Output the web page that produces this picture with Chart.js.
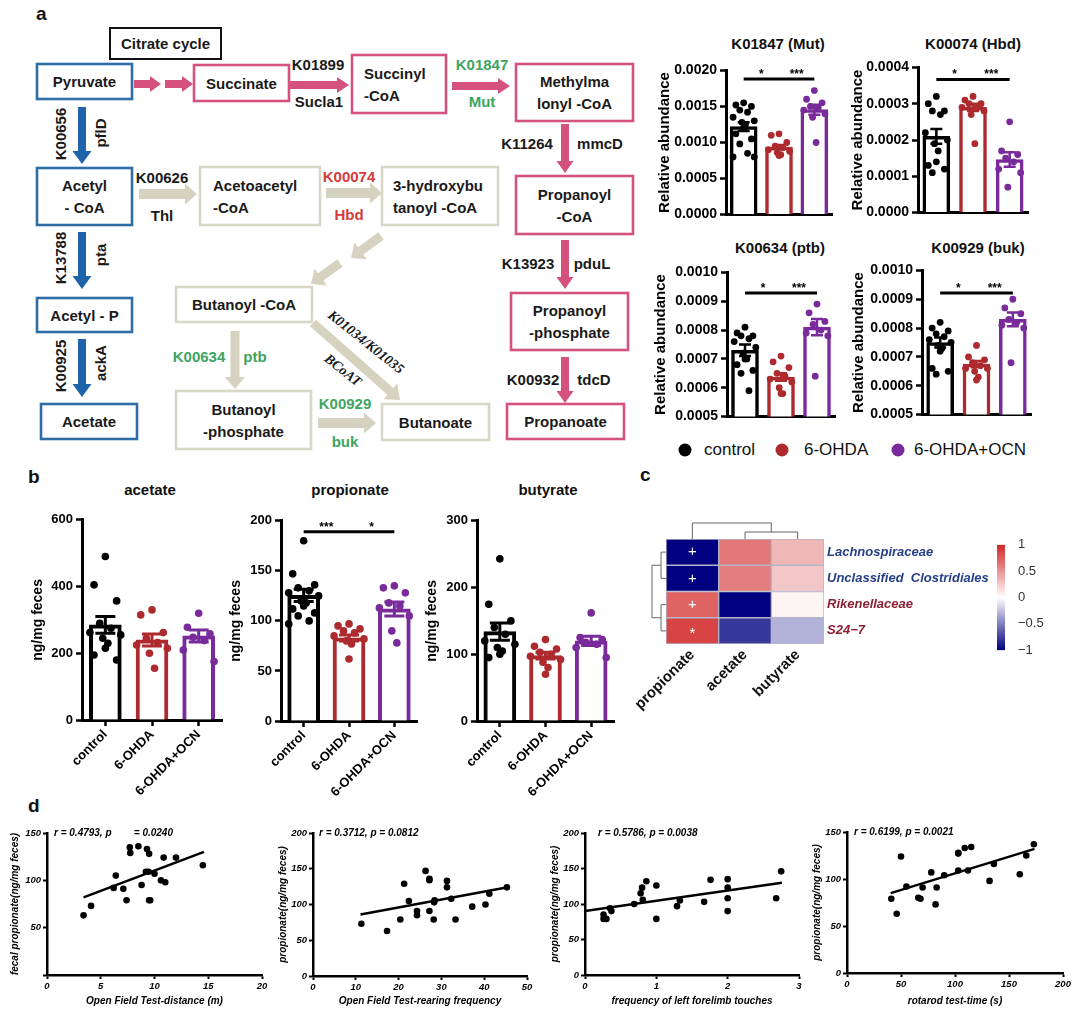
<!DOCTYPE html>
<html>
<head>
<meta charset="utf-8">
<script src="https://cdn.jsdelivr.net/npm/chart.js@4.4.1/dist/chart.umd.min.js"></script>
<style>
  body { margin: 0; background: #fff; width: 1080px; height: 1013px; position: relative; overflow: hidden;
         font-family: 'Liberation Sans', Arial, Helvetica, sans-serif; color: #111; }
  .abs { position: absolute; }
  .panel { position: absolute; font-weight: bold; font-size: 19px; }
  .ttl { position: absolute; font-weight: bold; font-size: 15px; transform: translate(-50%, -50%); white-space: nowrap; }
  .dot { position: absolute; width: 13px; height: 13px; border-radius: 50%; transform: translate(-50%, -50%); }
  .lg { position: absolute; font-size: 17px; transform: translateY(-50%); white-space: nowrap; }
</style>
</head>
<body>
<svg id="pathway" width="640" height="460" style="position:absolute;left:0;top:0"></svg>

<div class="panel" style="left:36px;top:3px">a</div>
<div class="panel" style="left:28px;top:466px">b</div>
<div class="panel" style="left:640px;top:464px">c</div>
<div class="panel" style="left:28px;top:795px">d</div>

<div class="ttl" style="left:778px;top:43px">K01847 (Mut)</div>
<div class="ttl" style="left:973px;top:43px">K00074 (Hbd)</div>
<div class="ttl" style="left:780px;top:247px">K00634 (ptb)</div>
<div class="ttl" style="left:978px;top:247px">K00929 (buk)</div>

<div class="dot" style="left:685px;top:450px;background:#000"></div><div class="lg" style="left:704px;top:450px">control</div>
<div class="dot" style="left:782px;top:450px;background:#ad2a2f"></div><div class="lg" style="left:804px;top:450px">6-OHDA</div>
<div class="dot" style="left:898px;top:450px;background:#7a2b9b"></div><div class="lg" style="left:914px;top:450px">6-OHDA+OCN</div>

<div class="ttl" style="left:150px;top:489px">acetate</div>
<div class="ttl" style="left:350px;top:489px">propionate</div>
<div class="ttl" style="left:548px;top:489px">butyrate</div>

<script>
"use strict";

// ── Data ─────────────────────────────────────────────────────────────────────

const GROUPS = ["control", "6-OHDA", "6-OHDA+OCN"];
const COLORS = ["#000000", "#ad2a2f", "#7a2b9b"];

// a – relative abundance of the four KOs
const MUT_CONTROL = [0.00152, 0.00155, 0.00150, 0.00145, 0.00142, 0.00135, 0.00130, 0.00128, 0.00125, 0.00120, 0.00112, 0.00105, 0.00098, 0.00085, 0.00080, 0.00080];
const MUT_OHDA    = [0.00110, 0.00112, 0.00100, 0.00095, 0.00093, 0.00090, 0.00088, 0.00086, 0.00083, 0.00082];
const MUT_OCN     = [0.00172, 0.00160, 0.00155, 0.00150, 0.00148, 0.00145, 0.00140, 0.00135, 0.00100];
const MUT_MEANS   = [0.00122, 0.000935, 0.001455];
const MUT_SEM     = [0.00006, 0.00003, 0.00007];

const HBD_CONTROL = [0.00032, 0.00030, 0.00028, 0.00028, 0.00027, 0.00022, 0.00020, 0.00019, 0.00017, 0.00014, 0.00013, 0.00012, 0.00011];
const HBD_OHDA    = [0.00032, 0.00031, 0.00030, 0.00030, 0.00029, 0.00029, 0.00028, 0.00027, 0.00019];
const HBD_OCN     = [0.00025, 0.00017, 0.00016, 0.00015, 0.00014, 0.00012, 0.00011, 0.00007];
const HBD_MEANS   = [0.00021, 0.00029, 0.000146];
const HBD_SEM     = [0.00002, 0.00001, 0.00002];

const PTB_CONTROL = [0.00081, 0.00079, 0.00078, 0.00078, 0.00077, 0.00076, 0.00072, 0.00070, 0.00068, 0.00066, 0.00065, 0.00074, 0.00070, 0.00059];
const PTB_OHDA    = [0.00071, 0.00069, 0.00067, 0.00065, 0.00064, 0.00063, 0.00062, 0.00060, 0.00058, 0.00058];
const PTB_OCN     = [0.00089, 0.00086, 0.00083, 0.00082, 0.00080, 0.00079, 0.00078, 0.00064];
const PTB_MEANS   = [0.00073, 0.000637, 0.00081];
const PTB_SEM     = [0.00002, 0.000013, 0.000028];

const BUK_CONTROL = [0.00082, 0.00080, 0.00079, 0.00078, 0.00077, 0.00075, 0.00073, 0.00076, 0.00074, 0.00072, 0.00066, 0.00065, 0.00064];
const BUK_OHDA    = [0.00074, 0.00070, 0.00069, 0.00068, 0.00067, 0.00066, 0.00066, 0.00065, 0.00063, 0.00062];
const BUK_OCN     = [0.00090, 0.00087, 0.00085, 0.00083, 0.00082, 0.00081, 0.00080, 0.00068];
const BUK_MEANS   = [0.00075, 0.000675, 0.00083];
const BUK_SEM     = [0.000017, 0.000011, 0.000024];

// b – faecal SCFA (ng/mg feces)
const ACE_CONTROL = [490, 405, 357, 290, 275, 262, 255, 245, 230, 215, 195, 180];
const ACE_OHDA    = [330, 315, 262, 245, 232, 225, 215, 200, 155];
const ACE_OCN     = [320, 278, 258, 248, 238, 210, 175];
const ACE_MEANS   = [285, 240, 252];
const ACE_SEM     = [25, 18, 18];

const PRO_CONTROL = [180, 147, 136, 133, 130, 128, 125, 120, 118, 115, 112, 108, 105, 100, 97];
const PRO_OHDA    = [97, 95, 92, 90, 88, 85, 82, 80, 77, 62];
const PRO_OCN     = [135, 133, 128, 118, 115, 113, 105, 90, 78];
const PRO_MEANS   = [125.5, 83, 112];
const PRO_SEM     = [6, 3, 7];

const BUT_CONTROL = [243, 175, 150, 140, 130, 120, 115, 110, 105, 100, 95];
const BUT_OHDA    = [122, 112, 108, 103, 100, 97, 92, 88, 80, 70];
const BUT_OCN     = [162, 125, 122, 118, 115, 110, 95];
const BUT_MEANS   = [134, 98, 120];
const BUT_SEM     = [13, 5, 7];

// c – correlation heatmap
const HM_COLS   = ["propionate", "acetate", "butyrate"];
const HM_ROWS   = ["Lachnospiraceae", "Unclassified  Clostridiales", "Rikenellaceae", "S24\u22127"];
const HM_ROW_COLORS = ["#263f86", "#263f86", "#8e1f33", "#8e1f33"];
const HM_VALUES = [
  [-1.0, 0.62, 0.33],
  [-1.0, 0.60, 0.26],
  [0.72, -1.0, 0.05],
  [0.86, -0.78, -0.30],
];
const HM_MARKS  = ["+", "+", "+", "*"];
const COLORBAR_TICKS = [-1, -0.5, 0, 0.5, 1];

// d – correlations with behaviour
const D1_X = [3.4, 4.1, 6.2, 6.4, 7.1, 7.4, 7.7, 7.75, 8.5, 8.8, 9.2, 9.3, 9.5, 9.45, 9.5, 9.6, 10.0, 10.6, 10.85, 11.0, 12.0, 14.5];
const D1_Y = [63, 73, 92, 105, 91, 79, 135, 129, 136, 95, 109, 133, 128, 109, 79, 79, 107, 100, 124, 98, 124, 116];
const D1_FIT_X = [3.4, 14.6];
const D1_FIT_Y = [82, 130];

const D2_X = [11.3, 17.3, 20.4, 21.3, 22.4, 24.3, 24.3, 26.3, 27.2, 27.2, 27.2, 28.4, 28.3, 28.2, 31.3, 31.3, 32.3, 33.3, 37.2, 40.3, 41.2, 45.3];
const D2_Y = [73, 63, 79, 129, 105, 91, 85, 147, 136, 134, 91, 106, 103, 79, 133, 124, 108, 79, 97, 100, 115, 124];
const D2_FIT_X = [11.1, 45.5];
const D2_FIT_Y = [86, 124];

const D3_X = [0.26, 0.26, 0.30, 0.35, 0.37, 0.69, 0.78, 0.80, 0.81, 0.86, 1.0, 1.0, 1.29, 1.33, 1.67, 1.76, 2.0, 2.0, 2.0, 2.0, 2.68, 2.75];
const D3_Y = [85, 79, 79, 94, 90, 100, 115, 123, 106, 132, 126, 79, 97, 105, 103, 134, 135, 123, 108, 90, 108, 146];
const D3_FIT_X = [0, 2.76];
const D3_FIT_Y = [90, 130];

const D4_X = [41, 46, 50, 55, 66, 68, 70, 78, 82, 83, 90, 103, 103, 103, 109, 112, 115, 132, 136, 160, 166, 173];
const D4_Y = [79, 63, 124, 92, 80, 79, 91, 107, 73, 91, 104, 109, 127, 128, 133, 109, 134, 98, 116, 105, 125, 137];
const D4_FIT_X = [40.5, 173.6];
const D4_FIT_Y = [85, 132];

// ── Pathway diagram (panel a, left) ──────────────────────────────────────────

const FONT = "'Liberation Sans', Arial, Helvetica, sans-serif";
const NS = "http://www.w3.org/2000/svg";
const svg = document.getElementById("pathway");
const BLUE_BOX = "#2f6da6", BLUE = "#1f63ab", PINK = "#d4527d", BEIGE = "#d6d2c0",
      BEIGE_BOX = "#d9d7c8", GREEN = "#3ea45f", RED = "#d63a3b", INK = "#1a1a1a";

function add(tag, attrs, text) {
  const e = document.createElementNS(NS, tag);
  for (const k in attrs) e.setAttribute(k, attrs[k]);
  if (text != null) e.textContent = text;
  svg.appendChild(e);
  return e;
}
function txt(x, y, s, color, o = {}) {
  const a = { x, y, fill: color || INK, "font-size": o.size || 15, "font-weight": "bold",
    "font-family": o.family || FONT, "font-style": o.style || "normal",
    "text-anchor": o.anchor || "middle", "dominant-baseline": "central" };
  if (o.rot) a.transform = `rotate(${o.rot} ${x} ${y})`;
  return add("text", a, s);
}
function box(x, y, w, h, color, lines, alignX) {
  add("rect", { x, y, width: w, height: h, fill: "#fff", stroke: color, "stroke-width": 2.6 });
  const cy = y + h / 2;
  lines.forEach((s, i) => {
    const yy = cy + (i - (lines.length - 1) / 2) * 22;
    if (alignX) txt(alignX, yy, s, INK, { anchor: "start" });
    else txt(x + w / 2, yy, s);
  });
}
function arrow(x1, y1, x2, y2, color, shaft, headW, headL) {
  const L = Math.hypot(x2 - x1, y2 - y1), ux = (x2 - x1) / L, uy = (y2 - y1) / L, nx = -uy, ny = ux;
  const bx = x2 - ux * headL, by = y2 - uy * headL, s = shaft / 2, hw = headW / 2;
  const P = [[x1 + nx * s, y1 + ny * s], [bx + nx * s, by + ny * s], [bx + nx * hw, by + ny * hw], [x2, y2],
             [bx - nx * hw, by - ny * hw], [bx - nx * s, by - ny * s], [x1 - nx * s, y1 - ny * s]];
  add("polygon", { points: P.map(p => p.join(",")).join(" "), fill: color });
}

// citrate cycle / propanoate branch
add("rect", { x: 110, y: 28, width: 111, height: 31, fill: "#fff", stroke: "#111", "stroke-width": 2 });
txt(165.5, 43.5, "Citrate cycle");
box(37, 64, 95, 35, BLUE_BOX, ["Pyruvate"]);
arrow(134, 84, 161, 84, PINK, 8, 16, 11);
arrow(165, 84, 193, 84, PINK, 8, 16, 11);
box(194, 65, 95, 36, PINK, ["Succinate"]);
arrow(290, 85, 349, 85, PINK, 8, 16, 12);
txt(318, 64, "K01899"); txt(319, 101, "Sucla1");
box(352, 55, 94, 58, PINK, ["Succinyl", "-CoA"], 364);
arrow(452, 86, 510, 86, PINK, 8, 16, 12);
txt(482, 64, "K01847", GREEN); txt(482, 101, "Mut", GREEN);
box(516, 64, 117, 57, PINK, ["Methylma", "lonyl -CoA"]);
arrow(565, 124, 565, 173, PINK, 8, 17, 12);
txt(527, 143, "K11264"); txt(600, 143, "mmcD");
box(516, 176, 117, 58, PINK, ["Propanoyl", "-CoA"]);
arrow(565, 240, 565, 289, PINK, 8, 17, 12);
txt(528, 263, "K13923"); txt(592, 263, "pduL");
box(511, 293, 117, 57, PINK, ["Propanoyl", "-phosphate"]);
arrow(565, 357, 565, 403, PINK, 8, 17, 12);
txt(533, 379, "K00932"); txt(594, 379, "tdcD");
box(507, 404, 117, 35, PINK, ["Propanoate"]);

// acetate branch
arrow(82, 107, 82, 164, BLUE, 8, 19, 13);
txt(60, 134, "K00656", INK, { rot: -90 }); txt(100, 133, "pflD", INK, { rot: -90 });
box(37, 168, 95, 57, BLUE_BOX, ["Acetyl", "- CoA"]);
arrow(82, 232, 82, 289, BLUE, 8, 19, 13);
txt(60, 258, "K13788", INK, { rot: -90 }); txt(100, 255, "pta", INK, { rot: -90 });
box(37, 298, 95, 34, BLUE_BOX, ["Acetyl  -  P"]);
arrow(82, 339, 82, 397, BLUE, 8, 19, 13);
txt(60, 366, "K00925", INK, { rot: -90 }); txt(100, 363, "ackA", INK, { rot: -90 });
box(41, 404, 96, 35, BLUE_BOX, ["Acetate"]);

// butanoate branch
arrow(139, 194, 197, 194, BEIGE, 10, 21, 12);
txt(162, 177, "K00626"); txt(162, 215, "Thl");
box(200, 167, 120, 58, BEIGE_BOX, ["Acetoacetyl", "-CoA"], 213);
arrow(326, 193, 382, 193, BEIGE, 10, 21, 12);
txt(349, 176, "K00074", RED); txt(349, 214, "Hbd", RED);
box(382, 167, 116, 58, BEIGE_BOX, ["3-hydroxybu", "tanoyl -CoA"], 393);
arrow(381, 236, 351, 258, BEIGE, 9, 21, 12);
arrow(340, 263, 311, 284, BEIGE, 9, 21, 12);
box(176, 287, 136, 35, BEIGE_BOX, ["Butanoyl  -CoA"]);
arrow(235, 331, 235, 389, BEIGE, 9, 20, 12);
txt(199, 356, "K00634", GREEN); txt(255, 356, "ptb", GREEN);
box(176, 391, 135, 58, BEIGE_BOX, ["Butanoyl", "-phosphate"]);
arrow(313, 323, 400, 400, BEIGE, 9, 21, 13);
txt(366, 342, "K01034/K01035", INK, { rot: 38.5, family: "'Liberation Serif', 'Times New Roman', serif", style: "italic", size: 14 });
txt(343, 370, "BCoAT", INK, { rot: 38.5, family: "'Liberation Serif', 'Times New Roman', serif", style: "italic", size: 14 });
arrow(318, 423, 376, 423, BEIGE, 10, 21, 12);
txt(345, 403, "K00929", GREEN); txt(345, 441, "buk", GREEN);
box(382, 404, 107, 36, BEIGE_BOX, ["Butanoate"]);

// ── Chart helpers ────────────────────────────────────────────────────────────

Chart.defaults.font.family = FONT;
Chart.defaults.color = "#000";

// position a chart so its plot area lands on the given pixel box
function place(axisX, plotTop, plotRight, plotBottom, yw, xh, pt, pr) {
  const d = document.createElement("div");
  d.className = "abs";
  d.style.left = (axisX - yw) + "px";
  d.style.top = (plotTop - pt) + "px";
  d.style.width = (yw + plotRight - axisX + pr) + "px";
  d.style.height = (pt + plotBottom - plotTop + xh) + "px";
  const c = document.createElement("canvas");
  d.appendChild(c);
  document.body.appendChild(d);
  return c;
}

const JITTER = [0, -0.22, 0.22, -0.11, 0.11, -0.3, 0.3, -0.05, 0.05];

function dotBarChart(p) {
  const [ax, top, right, bottom, yw, xh, pt, pr] = p.geom;
  const canvas = place(ax, top, right, bottom, yw, xh, pt, pr);
  const pts = [];
  p.vals.forEach((arr, g) => {
    [...arr].sort((a, b) => b - a).forEach((v, k) => pts.push({ x: g + JITTER[k % JITTER.length] * p.spread, y: v, c: COLORS[g] }));
  });

  const extras = {
    id: "extras",
    afterDatasetDraw(chart, args) {
      if (args.index !== 0) return;
      const { ctx, scales: { x, y } } = chart;
      ctx.save();
      ctx.lineWidth = p.ew;
      p.means.forEach((m, g) => {
        const cx = x.getPixelForValue(g), y1 = y.getPixelForValue(m - p.sem[g]), y2 = y.getPixelForValue(m + p.sem[g]);
        ctx.strokeStyle = COLORS[g];
        ctx.beginPath();
        ctx.moveTo(cx, y1); ctx.lineTo(cx, y2);
        ctx.moveTo(cx - p.cap, y1); ctx.lineTo(cx + p.cap, y1);
        ctx.moveTo(cx - p.cap, y2); ctx.lineTo(cx + p.cap, y2);
        ctx.stroke();
      });
      ctx.restore();
    },
    afterDatasetsDraw(chart) {
      if (p.sig == null) return;
      const { ctx, scales: { x, y } } = chart;
      const yy = y.getPixelForValue(p.sig);
      const x0 = x.getPixelForValue(0), x1 = x.getPixelForValue(1), x2 = x.getPixelForValue(2);
      ctx.save();
      ctx.strokeStyle = "#000"; ctx.lineWidth = 3;
      ctx.beginPath(); ctx.moveTo(x0, yy); ctx.lineTo(x2, yy); ctx.stroke();
      ctx.fillStyle = "#000"; ctx.font = "bold 12px " + FONT; ctx.textAlign = "center"; ctx.textBaseline = "alphabetic";
      ctx.fillText(p.sigText[0], (x0 + x1) / 2, yy - 1);
      ctx.fillText(p.sigText[1], (x1 + x2) / 2, yy - 1);
      ctx.restore();
    },
  };

  new Chart(canvas, {
    type: "scatter",
    data: {
      datasets: [
        { type: "bar", data: p.means.map((m, g) => ({ x: g, y: m })), backgroundColor: "#fff", borderColor: COLORS,
          borderWidth: p.bw, borderSkipped: "start", barThickness: p.barW, grouped: false, order: 2 },
        { type: "scatter", data: pts, pointRadius: p.r, pointBackgroundColor: pts.map(q => q.c),
          pointBorderWidth: 0, order: 1 },
      ],
    },
    options: {
      responsive: true, maintainAspectRatio: false, animation: false,
      layout: { padding: { top: pt, right: pr, left: 0, bottom: 0 } },
      plugins: { legend: { display: false }, tooltip: { enabled: false } },
      scales: {
        x: {
          type: "linear", min: -0.5, max: 2.5, offset: false,
          border: { color: "#000", width: 3 },
          grid: { display: true, offset: false, drawOnChartArea: false, drawTicks: p.xLabels, tickLength: 6, tickWidth: 2.5, tickColor: "#000" },
          afterBuildTicks: s => { s.ticks = GROUPS.map((_, i) => ({ value: i })); },
          ticks: { display: p.xLabels, autoSkip: false, maxRotation: 45, minRotation: 45, callback: (v, i) => GROUPS[i],
                   color: "#000", font: { size: 13, weight: "bold" }, padding: 1 },
          afterFit: s => { s.height = xh; },
        },
        y: {
          min: p.y[0], max: p.y[1],
          border: { color: "#000", width: 3 },
          grid: { display: true, drawOnChartArea: false, tickLength: 6, tickWidth: 2.5, tickColor: "#000" },
          ticks: { stepSize: p.y[2], callback: v => v.toFixed(p.y[3]), color: "#000", font: { size: p.tickSize, weight: "bold" }, padding: 3 },
          title: { display: true, text: p.yTitle, color: "#000", font: { size: p.titleSize, weight: "bold" }, padding: 0 },
          afterFit: s => { s.width = yw; },
        },
      },
    },
    plugins: [extras],
  });
}

// ── Panel a charts ──
const aStyle = { bw: 3.5, barW: 27, r: 3.4, spread: 1, ew: 2.5, cap: 6, xLabels: false, tickSize: 14, titleSize: 15,
  yTitle: "Relative abundance", sigText: ["*", "***"] };

dotBarChart({ ...aStyle, geom: [726, 68, 832, 222, 70, 4, 9, 6], vals: [MUT_CONTROL, MUT_OHDA, MUT_OCN],
  means: MUT_MEANS, sem: MUT_SEM, y: [0, 0.002, 0.0005, 4], sig: 0.00188 });
dotBarChart({ ...aStyle, geom: [918, 65, 1028, 220, 69, 4, 9, 6], vals: [HBD_CONTROL, HBD_OHDA, HBD_OCN],
  means: HBD_MEANS, sem: HBD_SEM, y: [0, 0.0004, 0.0001, 4], sig: 0.000367 });
dotBarChart({ ...aStyle, geom: [727, 270, 835, 424, 75, 4, 9, 6], vals: [PTB_CONTROL, PTB_OHDA, PTB_OCN],
  means: PTB_MEANS, sem: PTB_SEM, y: [0.0005, 0.001, 0.0001, 4], sig: 0.000929 });
dotBarChart({ ...aStyle, geom: [922, 268, 1031, 422, 72, 4, 9, 6], vals: [BUK_CONTROL, BUK_OHDA, BUK_OCN],
  means: BUK_MEANS, sem: BUK_SEM, y: [0.0005, 0.001, 0.0001, 4], sig: 0.000922 });

// ── Panel b charts ──
const bStyle = { bw: 4, barW: 32, r: 3.8, spread: 1.1, ew: 3, cap: 10, xLabels: true, tickSize: 13, titleSize: 14,
  yTitle: "ng/mg feces", sigText: ["***", "*"] };

dotBarChart({ ...bStyle, geom: [82, 518, 222, 720, 52, 75, 9, 6], vals: [ACE_CONTROL, ACE_OHDA, ACE_OCN],
  means: ACE_MEANS, sem: ACE_SEM, y: [0, 600, 200, 0], sig: null });
dotBarChart({ ...bStyle, geom: [281, 519, 417, 721, 53, 75, 9, 6], vals: [PRO_CONTROL, PRO_OHDA, PRO_OCN],
  means: PRO_MEANS, sem: PRO_SEM, y: [0, 200, 50, 0], sig: 189 });
dotBarChart({ ...bStyle, geom: [477, 519, 614, 721, 53, 75, 9, 6], vals: [BUT_CONTROL, BUT_OHDA, BUT_OCN],
  means: BUT_MEANS, sem: BUT_SEM, y: [0, 300, 100, 0], sig: null });

// ── Panel c heatmap ──
const NAVY = [0, 0, 128], WHITE = [255, 255, 255], REDC = [210, 38, 38];
function heatColor(v) {
  const end = v < 0 ? NAVY : REDC, t = Math.min(1, Math.abs(v));
  const c = WHITE.map((w, i) => Math.round(w + (end[i] - w) * t));
  return `rgb(${c[0]},${c[1]},${c[2]})`;
}

(function heatmap() {
  const canvas = place(666, 539, 824, 644, 66, 75, 30, 180);
  const dendro = {
    id: "dendro",
    afterDraw(chart) {
      const { ctx, scales: { x, y }, chartArea: a } = chart;
      const cx = HM_COLS.map((_, i) => x.getPixelForValue(i));
      const ry = HM_ROWS.map((_, i) => y.getPixelForValue(i + 0.5));
      ctx.save();
      ctx.strokeStyle = "#666"; ctx.lineWidth = 1;
      ctx.beginPath();
      // columns: (acetate, butyrate) then propionate
      const t1 = a.top - 7, t2 = a.top - 16, mid = (cx[1] + cx[2]) / 2;
      ctx.moveTo(cx[1], a.top); ctx.lineTo(cx[1], t1); ctx.lineTo(cx[2], t1); ctx.lineTo(cx[2], a.top);
      ctx.moveTo(mid, t1); ctx.lineTo(mid, t2); ctx.lineTo(cx[0], t2); ctx.lineTo(cx[0], a.top);
      // rows: (0,1), (2,3), then both
      const l1 = a.left - 5, l2 = a.left - 14;
      ctx.moveTo(a.left, ry[0]); ctx.lineTo(l1, ry[0]); ctx.lineTo(l1, ry[1]); ctx.lineTo(a.left, ry[1]);
      ctx.moveTo(a.left, ry[2]); ctx.lineTo(l1, ry[2]); ctx.lineTo(l1, ry[3]); ctx.lineTo(a.left, ry[3]);
      const m1 = (ry[0] + ry[1]) / 2, m2 = (ry[2] + ry[3]) / 2;
      ctx.moveTo(l1, m1); ctx.lineTo(l2, m1); ctx.lineTo(l2, m2); ctx.lineTo(l1, m2);
      ctx.stroke();
      ctx.fillStyle = "#fff"; ctx.font = "15px " + FONT; ctx.textAlign = "center"; ctx.textBaseline = "middle";
      HM_MARKS.forEach((m, r) => ctx.fillText(m, cx[0], ry[r] + (m === "*" ? 3 : 0)));
      ctx.restore();
    },
  };
  new Chart(canvas, {
    type: "bar",
    data: {
      labels: HM_COLS,
      datasets: HM_ROWS.map((name, r) => ({
        label: name,
        data: HM_COLS.map(() => [r, r + 1]),
        backgroundColor: HM_VALUES[r].map(heatColor),
        borderColor: "#b4b4c8", borderWidth: 1, borderSkipped: false,
        barPercentage: 1, categoryPercentage: 1, grouped: false,
      })),
    },
    options: {
      responsive: true, maintainAspectRatio: false, animation: false,
      layout: { padding: { top: 30, left: 66, right: 0, bottom: 0 } },
      plugins: { legend: { display: false }, tooltip: { enabled: false } },
      scales: {
        x: {
          border: { display: false }, grid: { display: false },
          ticks: { autoSkip: false, maxRotation: 45, minRotation: 45, color: "#111", font: { size: 15, weight: "bold" }, padding: -6 },
          afterFit: s => { s.height = 75; },
        },
        y: {
          position: "right", reverse: true, min: 0, max: 4,
          border: { display: false }, grid: { display: false, drawTicks: false },
          afterBuildTicks: s => { s.ticks = HM_ROWS.map((_, i) => ({ value: i + 0.5 })); },
          ticks: { callback: (v, i) => HM_ROWS[i], color: ctx => HM_ROW_COLORS[ctx.index],
                   font: { size: 13, weight: "bold", style: "italic" }, padding: 3 },
          afterFit: s => { s.width = 180; },
        },
      },
    },
    plugins: [dendro],
  });
})();

// colour bar
(function colorbar() {
  const canvas = place(997, 540, 1005, 663, 0, 0, 8, 40);
  new Chart(canvas, {
    type: "bar",
    data: {
      labels: ["r"],
      datasets: [{
        data: [[-1, 1]], barPercentage: 1, categoryPercentage: 1, borderWidth: 0,
        backgroundColor: ctx => {
          const a = ctx.chart.chartArea;
          if (!a) return "#fff";
          const g = ctx.chart.ctx.createLinearGradient(0, a.bottom, 0, a.top);
          g.addColorStop(0, heatColor(-1)); g.addColorStop(0.5, "#ffffff"); g.addColorStop(1, heatColor(1));
          return g;
        },
      }],
    },
    options: {
      responsive: true, maintainAspectRatio: false, animation: false,
      layout: { padding: { top: 8, bottom: 8, left: 0, right: 0 } },
      plugins: { legend: { display: false }, tooltip: { enabled: false } },
      scales: {
        x: { display: false },
        y: {
          position: "right", min: -1, max: 1,
          border: { display: false }, grid: { display: false },
          afterBuildTicks: s => { s.ticks = COLORBAR_TICKS.map(v => ({ value: v })); },
          ticks: { callback: v => (v < 0 ? "\u2212" + Math.abs(v) : String(v)), color: "#333", font: { size: 13 }, padding: 5 },
          afterFit: s => { s.width = 40; },
        },
      },
    },
  });
})();

// ── Panel d correlation plots ──
const dFont = { size: 9.5, weight: "bold", style: "italic" };

function corrChart(p) {
  const [ax, top, right, bottom, yw, xh, pt, pr] = p.geom;
  const canvas = place(ax, top, right, bottom, yw, xh, pt, pr);
  const note = {
    id: "note",
    afterDraw(chart) {
      const { ctx, chartArea: a } = chart;
      ctx.save();
      ctx.fillStyle = "#000"; ctx.font = "italic bold 10px " + FONT; ctx.textBaseline = "middle";
      ctx.fillText(p.note, a.left + p.noteDx, a.top);
      ctx.restore();
    },
  };
  new Chart(canvas, {
    type: "scatter",
    data: {
      datasets: [
        { type: "line", data: p.fx.map((x, i) => ({ x, y: p.fy[i] })), borderColor: "#000", borderWidth: 2.5, pointRadius: 0, order: 2 },
        { data: p.xs.map((x, i) => ({ x, y: p.ys[i] })), pointRadius: 3.3, backgroundColor: "#000", borderWidth: 0, order: 1 },
      ],
    },
    options: {
      responsive: true, maintainAspectRatio: false, animation: false,
      layout: { padding: { top: pt, right: pr, left: 0, bottom: 0 } },
      plugins: { legend: { display: false }, tooltip: { enabled: false } },
      scales: {
        x: {
          type: "linear", min: p.x[0], max: p.x[1],
          border: { color: "#000", width: 2.5 },
          grid: { display: true, drawOnChartArea: false, tickLength: 4, tickWidth: 2, tickColor: "#000" },
          ticks: { stepSize: p.x[2], color: "#000", font: dFont, padding: 2 },
          title: { display: true, text: p.xTitle, color: "#000", font: { size: 10, weight: "bold", style: "italic" }, padding: { top: 0, bottom: 6 } },
          afterFit: s => { s.height = xh; },
        },
        y: {
          min: p.y[0], max: p.y[1],
          border: { color: "#000", width: 2.5 },
          grid: { display: true, drawOnChartArea: false, tickLength: 4, tickWidth: 2, tickColor: "#000" },
          ticks: { stepSize: p.y[2], callback: v => (p.hideZero && v === 0 ? "" : v), color: "#000", font: dFont, padding: 2 },
          title: { display: true, text: p.yTitle, color: "#000", font: { size: 10, weight: "bold", style: "italic" }, padding: { top: p.yPad, bottom: 0 } },
          afterFit: s => { s.width = yw; },
        },
      },
    },
    plugins: [note],
  });
}

corrChart({ geom: [47, 833, 262, 975, 47, 38, 8, 10], xs: D1_X, ys: D1_Y, fx: D1_FIT_X, fy: D1_FIT_Y,
  x: [0, 20, 5], y: [0, 150, 50], hideZero: true, yPad: 9, noteDx: 7,
  note: "r = 0.4793, p        = 0.0240",
  xTitle: "Open Field Test-distance (m)", yTitle: "fecal propionate(ng/mg feces)" });
corrChart({ geom: [313, 833, 527, 976, 40, 37, 8, 10], xs: D2_X, ys: D2_Y, fx: D2_FIT_X, fy: D2_FIT_Y,
  x: [0, 50, 10], y: [0, 200, 50], hideZero: false, yPad: 4, noteDx: 6,
  note: "r = 0.3712, p = 0.0812",
  xTitle: "Open Field Test-rearing frequency", yTitle: "propionate(ng/mg feces)" });
corrChart({ geom: [585, 833, 799, 975, 40, 38, 8, 10], xs: D3_X, ys: D3_Y, fx: D3_FIT_X, fy: D3_FIT_Y,
  x: [0, 3, 1], y: [0, 200, 50], hideZero: false, yPad: 4, noteDx: 13,
  note: "r = 0.5786, p = 0.0038",
  xTitle: "frequency of left forelimb touches", yTitle: "propionate(ng/mg feces)" });
corrChart({ geom: [847, 832, 1063, 973, 40, 40, 8, 10], xs: D4_X, ys: D4_Y, fx: D4_FIT_X, fy: D4_FIT_Y,
  x: [0, 200, 50], y: [0, 150, 50], hideZero: false, yPad: 4, noteDx: 7,
  note: "r = 0.6199, p = 0.0021",
  xTitle: "rotarod test-time (s)", yTitle: "propionate(ng/mg feces)" });
</script>
</body>
</html>
